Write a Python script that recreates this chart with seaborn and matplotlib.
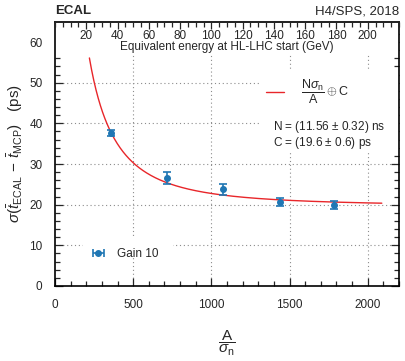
import numpy as np
import pandas as pd
import matplotlib
matplotlib.use("Agg")
import matplotlib.pyplot as plt
from matplotlib.patches import Rectangle
from matplotlib.ticker import MultipleLocator
import seaborn as sns

# --- Data ---
amp_over_noise = [357, 718, 1072, 1439, 1783]
time_resolution = [37.6, 26.6, 23.8, 20.7, 19.9]
time_resolution_err = [0.8, 1.4, 1.3, 1.0, 1.0]

# fit parameters: sigma = N*sigma_n/A (+) C
FIT_N_NS = 11.56
FIT_C_PS = 19.6
fit_range = [220, 2090]

energy_ticks = [20, 40, 60, 80, 100, 120, 140, 160, 180, 200]

BLUE = "#1f77b4"
RED = "#e8262a"
GRID = dict(color="0.55", ls=(0, (1, 2.5)), lw=0.8, zorder=0.5)

sns.set_theme(style="ticks")
plt.rcParams["font.family"] = ["Liberation Sans", "DejaVu Sans"]
plt.rcParams["mathtext.fontset"] = "custom"
plt.rcParams["mathtext.rm"] = "Liberation Sans"
plt.rcParams["mathtext.it"] = "Liberation Sans:italic"
plt.rcParams["mathtext.sf"] = "Liberation Sans"

df = pd.DataFrame({"x": amp_over_noise, "y": time_resolution, "err": time_resolution_err})

fig = plt.figure(figsize=(4.05, 3.61), dpi=100)
ax = fig.add_axes([55 / 405, 75 / 361, 344 / 405, 264.3 / 361])
ax.set_xlim(0, 2200)
ax.set_ylim(0, 65)

# grid
for gx in [500, 1000, 1500, 2000]:
    ax.axvline(gx, **GRID)
for gy in [10, 20, 30, 40, 50, 60]:
    ax.axhline(gy, **GRID)

# white boxes behind text (as in the original)
for (x0, y0, w, h) in [(0, 0.874, 1, 0.126), (0.596, 0.503, 0.404, 0.314), (0.081, 0.106, 0.262, 0.076)]:
    ax.add_patch(Rectangle((x0, y0), w, h, transform=ax.transAxes, facecolor="white",
                           edgecolor="none", zorder=1))

# fit curve
a = np.linspace(fit_range[0], fit_range[1], 400)
fit_vals = np.hypot(FIT_N_NS * 1000 / a, FIT_C_PS)
fit_line, = ax.plot(a, fit_vals, color=RED, lw=1.0, zorder=2)

# data
ax.errorbar(df["x"], df["y"], yerr=df["err"], fmt="o", color=BLUE, ms=4,
            elinewidth=1.2, capsize=3, capthick=1.2, zorder=3)
legend_handle = ax.errorbar([np.nan], [np.nan], xerr=[1], fmt="o", color=BLUE, ms=4,
                            elinewidth=1.2, capsize=3, capthick=1.2)

leg1 = ax.legend([legend_handle], ["Gain 10"], loc="center left", bbox_to_anchor=(0.085, 0.121),
                 frameon=False, fontsize=8.5, handlelength=1.6, handletextpad=0.8,
                 borderaxespad=0)
ax.add_artist(leg1)
ax.legend([fit_line], [r"$\dfrac{\mathrm{N}\sigma_{\mathrm{n}}}{\mathrm{A}} \oplus \mathrm{C}$"],
          loc="center left", bbox_to_anchor=(0.6, 0.735), frameon=False, fontsize=9,
          handlelength=1.4, handletextpad=1.4, borderaxespad=0)

ax.text(0.633, 0.603, r"N = (11.56 $\pm$ 0.32) ns", transform=ax.transAxes,
        fontsize=8.5, va="center", ha="left")
ax.text(0.633, 0.542, r"C = (19.6 $\pm$ 0.6) ps", transform=ax.transAxes,
        fontsize=8.5, va="center", ha="left")

# axes styling
ax.xaxis.set_major_locator(MultipleLocator(500))
ax.xaxis.set_minor_locator(MultipleLocator(100))
ax.yaxis.set_major_locator(MultipleLocator(10))
ax.yaxis.set_minor_locator(MultipleLocator(2))
ax.tick_params(which="both", direction="in", left=True, bottom=True, right=True, top=False,
               labelsize=8.5)
ax.tick_params(which="major", length=6, width=0.9)
ax.tick_params(which="minor", length=3.5, width=0.9)
ax.tick_params(axis="x", pad=9)
ax.tick_params(axis="y", pad=9)
for sp in ax.spines.values():
    sp.set_linewidth(1.2)
    sp.set_color("black")

# top axis: equivalent energy
sec = ax.secondary_xaxis("top", functions=(lambda x: x / 10, lambda e: e * 10))
sec.set_zorder(5)
sec.set_xticks(energy_ticks)
sec.xaxis.set_minor_locator(MultipleLocator(5))
sec.tick_params(which="both", direction="in", labelsize=8.5, pad=-14.5)
sec.tick_params(which="major", length=5, width=0.9)
sec.tick_params(which="minor", length=3.5, width=0.9)
sec.spines["top"].set_linewidth(1.2)
ax.text(0.5, 0.904, "Equivalent energy at HL-LHC start (GeV)", transform=ax.transAxes,
        fontsize=8.5, ha="center", va="center", zorder=4)

ax.set_xlabel(r"$\dfrac{\mathrm{A}}{\sigma_{\mathrm{n}}}$", fontsize=11, labelpad=13)
ax.set_ylabel(r"$\sigma(\bar{t}_{\mathrm{ECAL}}\, -\, \bar{t}_{\mathrm{MCP}})$   (ps)",
              fontsize=11, labelpad=3)

fig.text(55 / 405, 1 - 11 / 361, "ECAL", fontsize=9.5, fontweight="bold", ha="left", va="center")
fig.text(399 / 405, 1 - 11 / 361, "H4/SPS, 2018", fontsize=9.5, ha="right", va="center")

fig.savefig("out.png", dpi=100)
